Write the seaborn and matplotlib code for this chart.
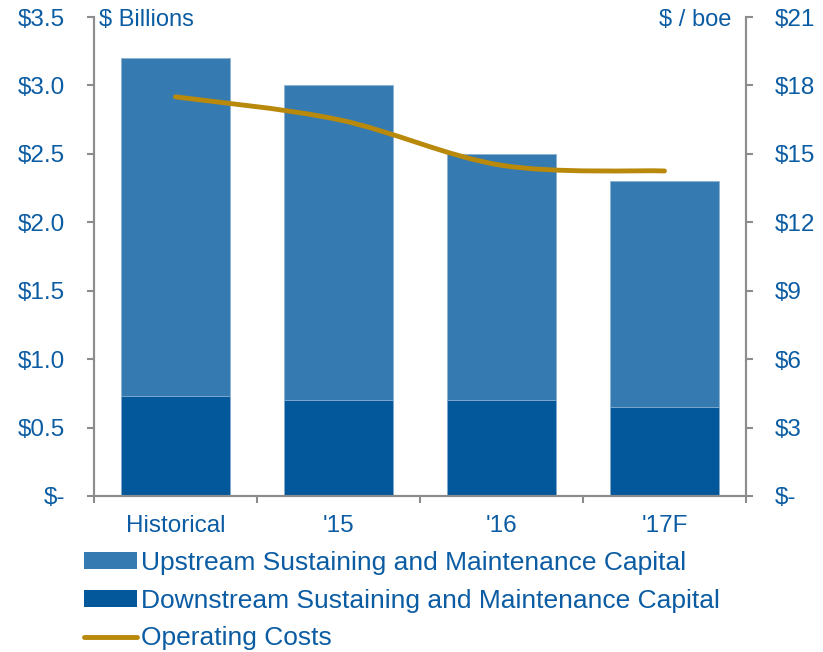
import numpy as np
import pandas as pd
import matplotlib
matplotlib.use("Agg")
import matplotlib.pyplot as plt
from matplotlib.path import Path
from matplotlib.patches import PathPatch, Patch
from matplotlib.lines import Line2D
import seaborn as sns

# Capital spend ($ billions) and operating cost ($/boe) by period
periods = ["Historical", "'15", "'16", "'17F"]
downstream = [0.73, 0.70, 0.70, 0.65]
upstream = [2.47, 2.30, 1.80, 1.65]
operating_costs = [17.5, 16.5, 14.5, 14.25]

left_ticks = [0, 0.5, 1.0, 1.5, 2.0, 2.5, 3.0, 3.5]
left_labels = ["\\$-", "\\$0.5", "\\$1.0", "\\$1.5", "\\$2.0", "\\$2.5", "\\$3.0", "\\$3.5"]
right_ticks = [0, 3, 6, 9, 12, 15, 18, 21]
right_labels = ["\\$-", "\\$3", "\\$6", "\\$9", "\\$12", "\\$15", "\\$18", "\\$21"]

legend_labels = [
    "Upstream Sustaining and Maintenance Capital",
    "Downstream Sustaining and Maintenance Capital",
    "Operating Costs",
]

UP = "#357AB0"
DOWN = "#03589B"
LINE = "#B8890A"
TEXT = "#0B5CA3"
AXIS = "#8C8C8C"
EDGE = "#8DB3D3"

TICK_SIZE = 17.5

sns.set_style("white")
plt.rcParams["font.family"] = ["Liberation Sans", "DejaVu Sans"]

fig = plt.figure(figsize=(8.23, 6.52), dpi=100)
ax = fig.add_axes([94 / 823, 1 - 496 / 652, 652 / 823, 479 / 652])

df = pd.DataFrame({
    "period": periods,
    "total": np.add(downstream, upstream),
    "down": downstream,
})

# Stacked bars: full column in the upstream colour, downstream base over it
sns.barplot(data=df, x="period", y="total", color=UP, saturation=1, width=0.67,
            edgecolor=EDGE, linewidth=0.6, ax=ax)
sns.barplot(data=df, x="period", y="down", color=DOWN, saturation=1, width=0.67,
            edgecolor=EDGE, linewidth=0.6, ax=ax)

ax.set_xlim(-0.5, len(periods) - 0.5)
ax.set_ylim(0, 3.5)
ax.set_xlabel("")
ax.set_ylabel("")
ax.set_yticks(left_ticks)
ax.set_yticklabels(left_labels)
ax.set_xticks(range(len(periods)))
ax.set_xticklabels(periods)
ax.set_xticks(np.arange(-0.5, len(periods)), minor=True)

for side in ["left", "right", "bottom"]:
    ax.spines[side].set_color(AXIS)
    ax.spines[side].set_linewidth(1.5)
ax.spines["top"].set_visible(False)

ax.tick_params(axis="y", which="major", direction="out", length=5, width=1.5,
               color=AXIS, labelcolor=TEXT, labelsize=TICK_SIZE, pad=16, left=True)
ax.tick_params(axis="x", which="major", length=0, labelcolor=TEXT,
               labelsize=TICK_SIZE, pad=14)
ax.tick_params(axis="x", which="minor", direction="out", length=5, width=1.5,
               color=AXIS, bottom=True)

# Operating cost line on the secondary axis, smoothed with Bezier segments
ax2 = ax.twinx()
ax2.set_ylim(0, 21)
ax2.set_yticks(right_ticks)
ax2.set_yticklabels(right_labels)
ax2.tick_params(axis="y", direction="out", length=5, width=1.5, color=AXIS,
                labelcolor=TEXT, labelsize=TICK_SIZE, pad=16, right=True)
for side in ["left", "right", "bottom"]:
    ax2.spines[side].set_color(AXIS)
    ax2.spines[side].set_linewidth(1.5)
ax2.spines["top"].set_visible(False)

pts = np.column_stack([np.arange(len(operating_costs)), operating_costs]).astype(float)
verts = [tuple(pts[0])]
codes = [Path.MOVETO]
n = len(pts)
for i in range(n - 1):
    p0 = pts[i - 1] if i > 0 else pts[i]
    p1 = pts[i]
    p2 = pts[i + 1]
    p3 = pts[i + 2] if i + 2 < n else pts[i + 1]
    c1 = p1 + (p2 - p0) / 6.0
    c2 = p2 - (p3 - p1) / 6.0
    verts += [tuple(c1), tuple(c2), tuple(p2)]
    codes += [Path.CURVE4] * 3
ax2.add_patch(PathPatch(Path(verts, codes), fill=False, edgecolor=LINE,
                        linewidth=3.5, capstyle="round", joinstyle="round"))
ax2.set_xlim(-0.5, len(periods) - 0.5)

# Unit captions at the top of each axis
ax.text(0.008, 1.0, "\\$ Billions", transform=ax.transAxes, ha="left",
        va="center_baseline", color=TEXT, fontsize=17)
ax.text(0.977, 1.0, "\\$ / boe", transform=ax.transAxes, ha="right",
        va="center_baseline", color=TEXT, fontsize=17)

handles = [
    Patch(facecolor=UP, edgecolor="none"),
    Patch(facecolor=DOWN, edgecolor="none"),
    Line2D([0], [0], color=LINE, linewidth=3.5, solid_capstyle="round"),
]
fig.legend(handles, legend_labels, loc="upper left",
           bbox_to_anchor=(84 / 823, 1 - 551 / 652), frameon=False,
           fontsize=19, labelcolor=TEXT, handlelength=2.0, handleheight=0.6,
           handletextpad=0.15, labelspacing=0.52, borderpad=0, borderaxespad=0)

fig.savefig("out.png", dpi=100)
